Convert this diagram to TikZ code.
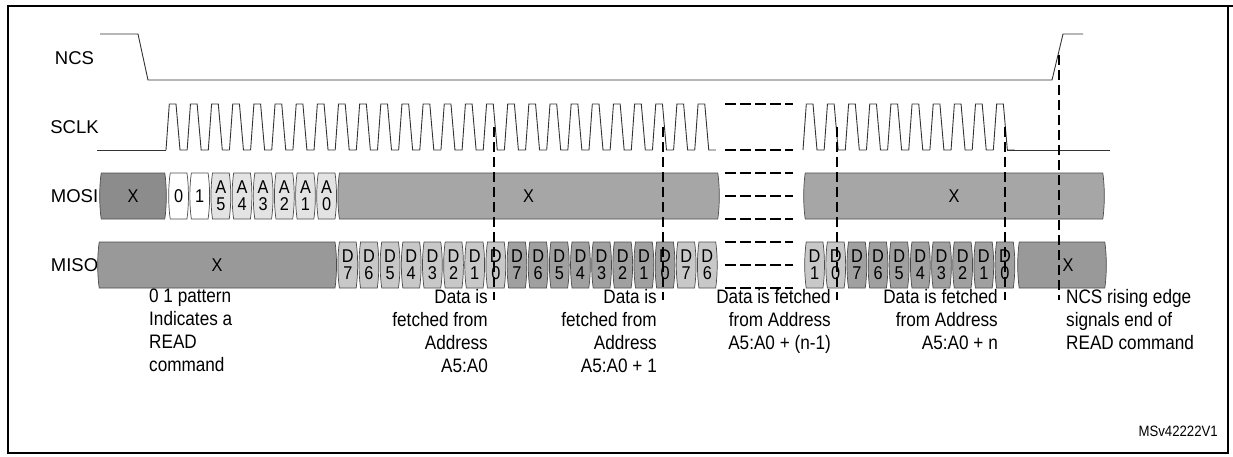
\documentclass[tikz,border=0pt]{standalone}
\usepackage{fontspec}
\setmainfont{Liberation Sans}
\newfontfamily\narrowsf[FakeStretch=0.88]{Liberation Sans}
\usepackage{tikz}

\definecolor{mosidark}{HTML}{8C8C8C}
\definecolor{busgray}{HTML}{A6A6A6}
\definecolor{misogray}{HTML}{999999}
\definecolor{addrgray}{HTML}{E3E3E3}
\definecolor{dlight}{HTML}{C8C8C8}
\definecolor{ddark}{HTML}{A0A0A0}

% one bus cell: left, right, mid y, fill, name, text
\newcommand{\buscell}[6]{%
  \filldraw[cellline, fill=#4] (#1+2.2,#3-23) -- (#2-2.2,#3-23)
    .. controls (#2-0.2,#3-9) and (#2-0.2,#3+9) .. (#2-2.2,#3+23) -- (#1+2.2,#3+23)
    .. controls (#1+0.2,#3+9) and (#1+0.2,#3-9) .. cycle;
  \node[celltext] (#5) at ({(#1+#2)/2},#3) {#6};
}

\begin{document}
\begin{tikzpicture}[x=1pt, y=-1pt,
  wave/.style={line width=0.9pt, black!80},
  cellline/.style={line width=0.7pt, draw=black!70},
  celltext/.style={font=\narrowsf\fontsize{18.5}{17}\selectfont, align=center, inner sep=0pt},
  siglabel/.style={font=\fontsize{18.5}{21}\selectfont, inner sep=0pt},
  note/.style={font=\narrowsf\fontsize{19.5}{23}\selectfont, inner sep=0pt},
  fetchline/.style={line width=2.4pt, dash pattern=on 10pt off 5pt},
  gapline/.style={line width=2.6pt, dash pattern=on 11pt off 4pt}]

\useasboundingbox (0,0) rectangle (1233,456);

% Frame
\draw[line width=1.4pt] (8,6) -- (8,453) -- (1228,453) -- (1228,6);
\draw[line width=2.8pt] (7.3,6) -- (1233,6);

% Signal names
\node[siglabel] (ncs) at (74.5,58) {NCS};
\node[siglabel] (sclk) at (74.5,127) {SCLK};
\node[siglabel] (mosi) at (74.5,196) {MOSI};
\node[siglabel] (miso) at (74.5,265) {MISO};

% NCS
\draw[wave] (100,34) -- (138,34) -- (148,80) -- (1052,80) -- (1063,34) -- (1083,34);

% SCLK
\draw[wave] (97,150) -- (166,150);
\foreach \k in {0,...,25} {
  \pgfmathsetmacro\t{166+21.15*\k}
  \draw[wave] (\t,150) -- (\t+3.3,104) -- (\t+10,104) -- (\t+14,150) -- (\t+21.15,150);
}
\foreach \k in {0,...,9} {
  \pgfmathsetmacro\t{803+21.15*\k}
  \draw[wave] (\t,150) -- (\t+3.3,104) -- (\t+10,104) -- (\t+14,150) -- (\t+21.15,150);
}
\draw[wave] (1007,150) -- (1110,150);

% MOSI
\buscell{99}{167}{196}{mosidark}{mosi-x1}{X}
\buscell{168}{189.15}{196}{white}{mosi-b0}{0}
\buscell{189.15}{210.3}{196}{white}{mosi-b1}{1}
\foreach \a [count=\n from 0] in {5,4,3,2,1,0}
  \buscell{210.3+21.15*\n}{231.45+21.15*\n}{196}{addrgray}{mosi-a\a}{A\\\a};
\buscell{337.2}{720}{196}{busgray}{mosi-x2}{X}
\buscell{803}{1105}{196}{busgray}{mosi-x3}{X}

% MISO
\buscell{97}{337.2}{265}{misogray}{miso-x1}{X}
\foreach \d [count=\n from 0] in {7,6,5,4,3,2,1,0}
  \buscell{337.2+21.15*\n}{358.35+21.15*\n}{265}{dlight}{miso-p\d}{D\\\d};
\foreach \d [count=\n from 0] in {7,6,5,4,3,2,1,0}
  \buscell{506.4+21.15*\n}{527.55+21.15*\n}{265}{ddark}{miso-q\d}{D\\\d};
\foreach \d [count=\n from 0] in {7,6}
  \buscell{675.6+21.15*\n}{696.75+21.15*\n}{265}{dlight}{miso-r\d}{D\\\d};
\foreach \d [count=\n from 0] in {1,0}
  \buscell{804+21.15*\n}{825.15+21.15*\n}{265}{dlight}{miso-s\d}{D\\\d};
\foreach \d [count=\n from 0] in {7,6,5,4,3,2,1,0}
  \buscell{846.3+21.15*\n}{867.45+21.15*\n}{265}{ddark}{miso-t\d}{D\\\d};
\buscell{1017}{1107}{265}{misogray}{miso-x2}{}
\node[celltext] (miso-x2-label) at (1068,265) {X};

% Skipped cycles
\foreach \y in {104,150,173,196,219,242,265,288}
  \draw[gapline] (725,\y) -- (793,\y);

% Fetch markers
\draw[fetchline] (494,127) -- (494,300);
\draw[fetchline] (663,127) -- (663,300);
\draw[fetchline] (837,127) -- (837,300);
\draw[fetchline] (1005,127) -- (1005,300);
\draw[fetchline] (1059,55) -- (1059,300);

% Notes
\node[note, anchor=north west, align=left] (n-read) at (149,289)
  {0 1 pattern\\Indicates a\\READ\\command};
\node[note, anchor=north east, align=right] (n-a0) at (488,289)
  {Data is\\fetched from\\Address\\A5:A0};
\node[note, anchor=north east, align=right] (n-a1) at (657,289)
  {Data is\\fetched from\\Address\\A5:A0 + 1};
\node[note, anchor=north east, align=right] (n-an1) at (831,289)
  {Data is fetched\\from Address\\A5:A0 + (n-1)};
\node[note, anchor=north east, align=right] (n-an) at (998,289)
  {Data is fetched\\from Address\\A5:A0 + n};
\node[note, anchor=north west, align=left] (n-end) at (1066,289)
  {NCS rising edge\\signals end of\\READ command};
\node[note, font=\narrowsf\fontsize{15}{17}\selectfont, anchor=east] (ref) at (1218,431) {MSv42222V1};

\end{tikzpicture}
\end{document}
